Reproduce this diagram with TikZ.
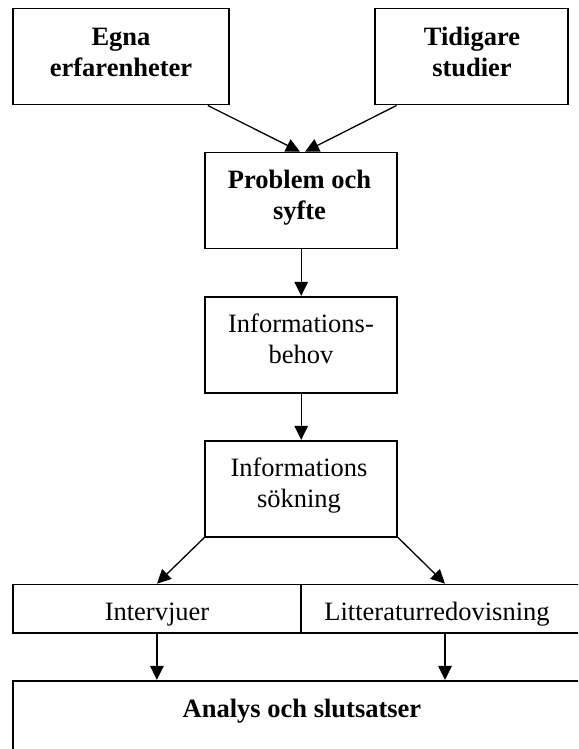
\documentclass[tikz,border=0pt]{standalone}
\usepackage{fontspec}
\setmainfont{Liberation Serif}
\usetikzlibrary{arrows.meta}
\begin{document}
\begin{tikzpicture}[x=1pt,y=-1pt,
  box/.style={draw, line width=1.6pt, inner sep=0pt, minimum height=96pt, minimum width=#1},
  box/.default=192pt,
  lbl/.style={anchor=base, align=center, inner sep=0pt, font=\fontsize{26.5}{31}\selectfont},
  blbl/.style={lbl, font=\fontsize{26.5}{31}\selectfont\bfseries},
  arr/.style={line width=1.3pt, -{Triangle[length=14pt,width=13.5pt]}}
]
\useasboundingbox (0,0) rectangle (578,749);
\clip (0,0) rectangle (578,749);

% boxes
\node[box=216pt] (egna)  at (121,56.7)    {};
\node[box=193pt] (tid)   at (471.5,56.7)  {};
\node[box]       (prob)  at (301.2,200.5) {};
\node[box]       (behov) at (301.2,344.7) {};
\node[box]       (sok)   at (301.2,488.7) {};
\node[box=288.3pt, minimum height=48.2pt] (intv) at (156.9,608.6) {};
\node[box=288pt,   minimum height=48.2pt] (litt) at (445,608.6)   {};
\node[box=576.3pt] (analys) at (301,728.7) {};

% texts (anchored at the baseline of the last line)
\node[blbl] (egnat)   at (121,76.5)   {Egna\\erfarenheter};
\node[blbl] (tidt)    at (472,76.5)   {Tidigare\\studier};
\node[blbl] (probt)   at (299.5,219)  {Problem och\\syfte};
\node[lbl]  (behovt)  at (301,363.5)  {Informations-\\behov};
\node[lbl]  (sokt)    at (299,507)    {Informations\\sökning};
\node[lbl]  (intvt)   at (157,620)    {Intervjuer};
\node[lbl]  (littt)   at (437,620)    {Litteraturredovisning};
\node[blbl] (analyst) at (302,717)    {Analys och slutsatser};

% connectors
\draw[arr] ([xshift=-22pt]egna.south east) -- ([xshift=-1.2pt]prob.north);
\draw[arr] ([xshift=22.3pt]tid.south west) -- ([xshift=3.8pt]prob.north);
\draw[arr] (prob) -- (behov);
\draw[arr] (behov) -- (sok);
\draw[arr] (sok.south west) -- (intv.north);
\draw[arr] (sok.south east) -- (litt.north);
\draw[arr] (intv.south) -- (intv.south |- analys.north);
\draw[arr] (litt.south) -- (litt.south |- analys.north);
\end{tikzpicture}
\end{document}
